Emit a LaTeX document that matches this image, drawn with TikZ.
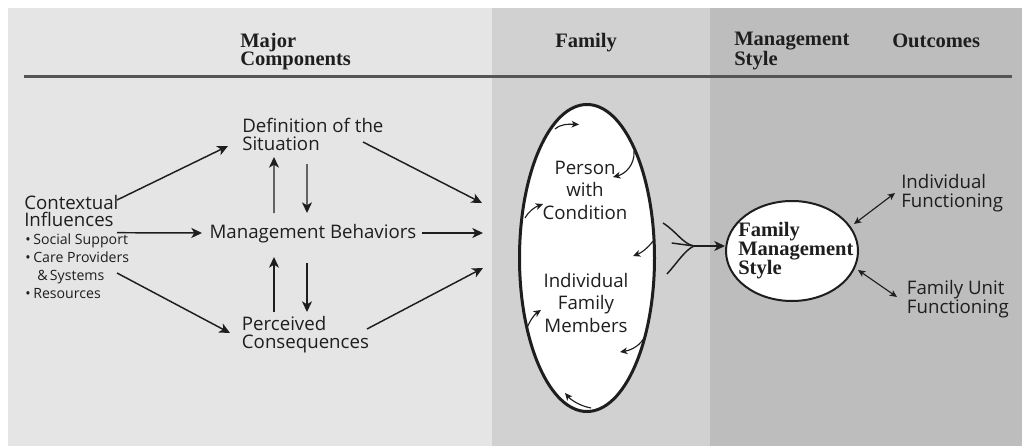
\documentclass[tikz,border=0pt]{standalone}
\usepackage{fontspec}
\setmainfont{Liberation Serif}
\newfontfamily\sansf{Open Sans}
\usetikzlibrary{arrows.meta,shapes.geometric,calc}
\definecolor{panelA}{HTML}{E5E5E5}
\definecolor{panelB}{HTML}{D1D1D1}
\definecolor{panelC}{HTML}{BDBDBD}
\definecolor{ink}{HTML}{1E1E1E}
\definecolor{rulec}{HTML}{555555}
\begin{document}
\begin{tikzpicture}[x=0.75pt,y=-0.75pt,
  hdr/.style={font=\fontsize{15.4pt}{13.5pt}\selectfont\bfseries, text=ink, inner sep=0pt, align=left, anchor=base west},
  lbl/.style={font=\sansf\fontsize{14pt}{13.8pt}\selectfont, text=ink, inner sep=0pt, align=left, anchor=base west},
  blt/.style={font=\sansf\fontsize{10.6pt}{13.3pt}\selectfont, text=ink, inner sep=0pt, align=left, anchor=base west},
  arr/.style={-{Stealth[length=8pt,width=7.5pt,inset=2.2pt]}, line width=1.1pt, draw=ink},
  sarr/.style={-{Stealth[length=5.5pt,width=5pt,inset=1.5pt]}, line width=0.85pt, draw=ink},
  darr/.style={{Stealth[length=5.5pt,width=5pt,inset=1.5pt]}-{Stealth[length=5.5pt,width=5pt,inset=1.5pt]}, line width=0.85pt, draw=ink},
  fork/.style={line width=1.1pt, draw=ink}
]
\useasboundingbox (0,0) rectangle (1022,446);
\fill[white] (0,0) rectangle (1022,446);
% panels
\fill[panelA] (8,8) rectangle (492,446);
\fill[panelB] (492,8) rectangle (710,446);
\fill[panelC] (710,8) rectangle (1022,446);
\draw[rulec, line width=2.25pt] (24,76) -- (1012,76);

% headers (multi-line nodes: base = last line)
\node[hdr] (hMaj) at (240,65.7) {Major\\Components};
\node[hdr] (hFam) at (555,47.7) {Family};
\node[hdr] (hMS) at (734,65.7) {Management\\Style};
\node[hdr] (hOut) at (892,47.7) {Outcomes};

% major components
\node[lbl] (def) at (242,150.7) {Definition of the\\Situation};
\node[lbl] (mb) at (209.3,238.3) {Management Behaviors};
\node[lbl, font=\sansf\fontsize{14pt}{13.5pt}\selectfont] (pc) at (241.7,348) {Perceived\\Consequences};
\node[lbl, font=\sansf\fontsize{14pt}{12.9pt}\selectfont] (ctx) at (24,226.5) {Contextual\\Influences};
\node[blt] (ctxl) at (25,298.1) {\makebox[6pt][l]{\textbullet}Social Support\\\makebox[6pt][l]{\textbullet}Care Providers\\\hspace*{9pt}\&\,Systems\\\makebox[6pt][l]{\textbullet}Resources};

\coordinate (r1) at (482,203);
\coordinate (r2) at (483,233);
\coordinate (r3) at (483,268);

\draw[arr] ($(ctx.base west)+(93,-26.5)$) -- ($(def.base west)+(-14,-4.7)$);
\draw[arr] ($(ctx.base west)+(93,6.2)$) -- ($(mb.base west)+(-7.3,-5.3)$);
\draw[arr] ($(ctxl.base west)+(92,-25.1)$) -- ($(pc.base west)+(-11.7,-15)$);
\draw[arr] ($(def.base west)+(121,-8.7)$) -- (r1);
\draw[arr] ($(mb.base west)+(212.7,-5.3)$) -- (r2);
\draw[arr] ($(pc.base west)+(125.3,-19)$) -- (r3);
\draw[arr] ($(mb.base west)+(64.7,-25.3)$) -- ($(def.base west)+(32,6.3)$);
\draw[arr] ($(def.base west)+(65,13.3)$) -- ($(mb.base west)+(97.7,-25.3)$);
\draw[arr] ($(pc.base west)+(32.3,-36)$) -- ($(mb.base west)+(64.7,18.7)$);
\draw[arr] ($(mb.base west)+(97.7,24.7)$) -- ($(pc.base west)+(65.3,-36)$);

% family ellipse
\node[draw=ink, line width=2.25pt, fill=white, ellipse, minimum width=101.25pt, minimum height=230.25pt, inner sep=0pt] (fam) at (587,258) {};
\node[lbl, align=center, anchor=base, font=\sansf\fontsize{14pt}{17pt}\selectfont] (pwc) at (585,219.4) {Person\\with\\Condition};
\node[lbl, align=center, anchor=base, font=\sansf\fontsize{14pt}{16.8pt}\selectfont] (ifm) at (586,332) {Individual\\Family\\Members};

\begin{scope}[shift={(fam.center)}]
\draw[sarr] (-32,-129) .. controls (-26,-134) and (-19,-134) .. (-8,-133.5);
\draw[sarr] (47,-107) .. controls (48,-93) and (38,-84) .. (26,-81);
\draw[sarr] (-62,-40) .. controls (-58,-47) and (-52,-51) .. (-44,-54);
\draw[sarr] (66,-17) .. controls (61,-10) and (54,-5) .. (46,-2);
\draw[sarr] (-60,70) .. controls (-57,62) and (-52,56) .. (-46,52);
\draw[sarr] (58,78) .. controls (54,87) and (45,92) .. (33,94);
\draw[sarr] (4,150) .. controls (-7,148) and (-16,142) .. (-22,135);
\coordinate (join) at (107,-12);
\draw[fork] (76,-35) .. controls (90,-26) and (96,-14) .. (join);
\draw[fork] (84.7,-15) -- (join);
\draw[fork] (80,16) .. controls (90,5) and (98,-8) .. (join);
\end{scope}

% family management style
\node[draw=ink, line width=1.5pt, fill=white, ellipse, minimum width=99pt, minimum height=75pt, inner sep=0pt] (fms) at (792,251) {};
\node[hdr, font=\fontsize{15.4pt}{14.25pt}\selectfont\bfseries] (fmst) at (738,274.5) {Family\\Management\\Style};
\draw[arr] (join) -- (join -| fms.west);

% outcomes
\node[lbl] (oi) at (901,207.3) {Individual\\Functioning};
\node[lbl] (ou) at (906.7,313.3) {Family Unit\\Functioning};
\draw[darr] ($(fms.center)+(62,-27)$) -- ($(oi.base west)+(-6,-14.3)$);
\draw[darr] ($(fms.center)+(66,19)$) -- ($(ou.base west)+(-9.7,-16.3)$);
\end{tikzpicture}
\end{document}
